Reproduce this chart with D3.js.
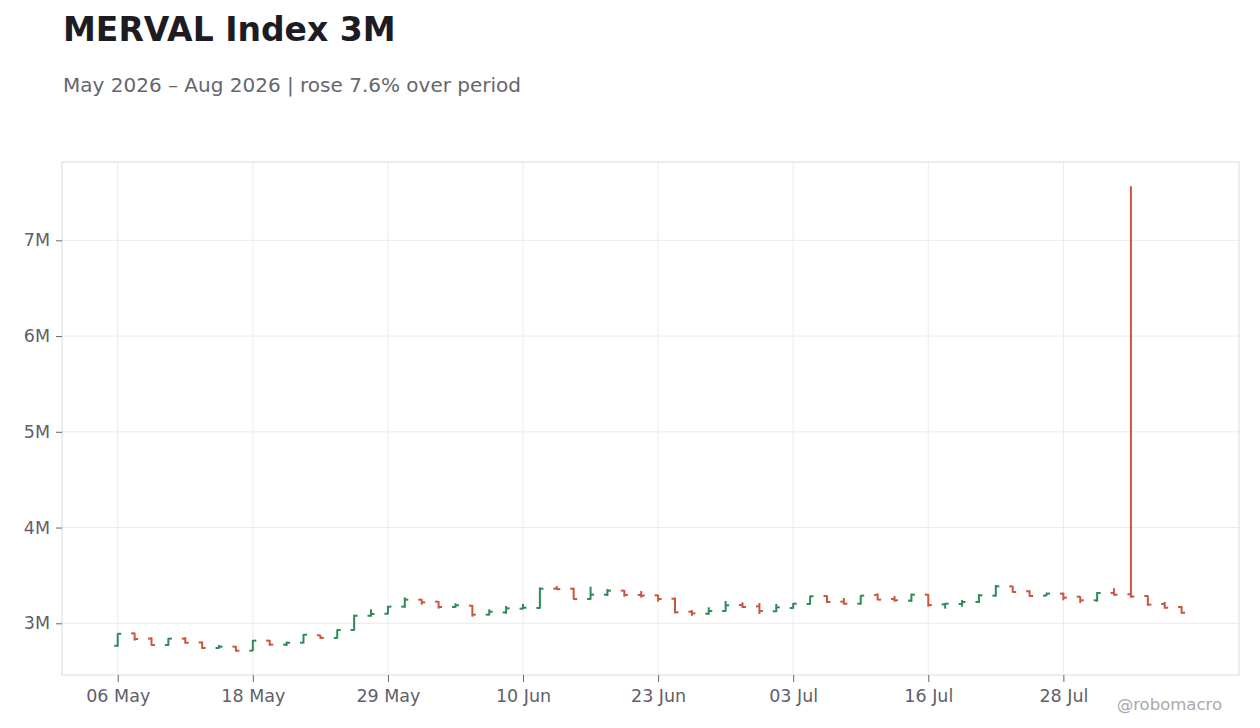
<!DOCTYPE html>
<html lang="en">
<head>
    <meta charset="UTF-8">
    <title>MERVAL Index 3M</title>
    <script src="https://d3js.org/d3.v7.min.js"></script>
    <style>
        body { margin: 0; background: #fff; font-family: "DejaVu Sans", sans-serif; }
    </style>
</head>
<body>
    <div id="chart"></div>

    <script>
        // Trading days (Argentina holidays skipped: 25 May, 15 Jun, 09 Jul)
        const dates = [
            "2026-05-06","2026-05-07","2026-05-08","2026-05-11","2026-05-12","2026-05-13","2026-05-14","2026-05-15",
            "2026-05-18","2026-05-19","2026-05-20","2026-05-21","2026-05-22","2026-05-26","2026-05-27","2026-05-28",
            "2026-05-29","2026-06-01","2026-06-02","2026-06-03","2026-06-04","2026-06-05","2026-06-08","2026-06-09",
            "2026-06-10","2026-06-11","2026-06-12","2026-06-16","2026-06-17","2026-06-18","2026-06-19","2026-06-22",
            "2026-06-23","2026-06-24","2026-06-25","2026-06-26","2026-06-29","2026-06-30","2026-07-01","2026-07-02",
            "2026-07-03","2026-07-06","2026-07-07","2026-07-08","2026-07-10","2026-07-13","2026-07-14","2026-07-15",
            "2026-07-16","2026-07-17","2026-07-20","2026-07-21","2026-07-22","2026-07-23","2026-07-24","2026-07-27",
            "2026-07-28","2026-07-29","2026-07-30","2026-07-31","2026-08-03","2026-08-04","2026-08-05","2026-08-06"
        ];

        // OHLC values, in millions
        const openM = [
            2.766, 2.895, 2.840, 2.773, 2.840, 2.800, 2.742, 2.756,
            2.714, 2.819, 2.777, 2.797, 2.875, 2.847, 2.930, 3.079,
            3.100, 3.174, 3.247, 3.226, 3.170, 3.184, 3.090, 3.114,
            3.153, 3.160, 3.362, 3.361, 3.254, 3.299, 3.341, 3.296,
            3.292, 3.257, 3.121, 3.100, 3.128, 3.191, 3.177, 3.125,
            3.160, 3.202, 3.285, 3.226, 3.205, 3.296, 3.254, 3.237,
            3.299, 3.198, 3.202, 3.223, 3.289, 3.386, 3.334, 3.289,
            3.310, 3.278, 3.240, 3.317, 3.303, 3.285, 3.202, 3.170
        ];
        const highM = [
            2.896, 2.902, 2.854, 2.847, 2.854, 2.811, 2.773, 2.763,
            2.826, 2.826, 2.808, 2.888, 2.878, 2.937, 3.090, 3.146,
            3.181, 3.271, 3.254, 3.233, 3.209, 3.191, 3.146, 3.181,
            3.202, 3.375, 3.389, 3.372, 3.382, 3.358, 3.348, 3.337,
            3.299, 3.268, 3.139, 3.167, 3.233, 3.219, 3.212, 3.202,
            3.212, 3.289, 3.292, 3.264, 3.292, 3.313, 3.285, 3.310,
            3.306, 3.212, 3.243, 3.306, 3.400, 3.389, 3.344, 3.320,
            3.320, 3.282, 3.327, 3.366, 7.564, 3.292, 3.223, 3.181
        ];
        const lowM = [
            2.756, 2.819, 2.766, 2.766, 2.787, 2.732, 2.735, 2.704,
            2.711, 2.766, 2.763, 2.790, 2.840, 2.840, 2.923, 3.069,
            3.093, 3.163, 3.195, 3.153, 3.163, 3.069, 3.083, 3.100,
            3.146, 3.153, 3.351, 3.247, 3.247, 3.285, 3.278, 3.268,
            3.226, 3.104, 3.079, 3.090, 3.121, 3.160, 3.097, 3.118,
            3.153, 3.195, 3.212, 3.195, 3.195, 3.240, 3.226, 3.223,
            3.174, 3.153, 3.174, 3.212, 3.278, 3.320, 3.278, 3.285,
            3.240, 3.212, 3.226, 3.289, 3.268, 3.184, 3.153, 3.100
        ];
        const closeM = [
            2.890, 2.836, 2.773, 2.840, 2.797, 2.742, 2.756, 2.714,
            2.819, 2.777, 2.797, 2.881, 2.847, 2.930, 3.079, 3.097,
            3.174, 3.247, 3.219, 3.170, 3.188, 3.090, 3.121, 3.156,
            3.163, 3.361, 3.357, 3.254, 3.299, 3.341, 3.296, 3.289,
            3.254, 3.115, 3.104, 3.128, 3.188, 3.170, 3.128, 3.167,
            3.205, 3.282, 3.223, 3.205, 3.289, 3.247, 3.240, 3.299,
            3.191, 3.205, 3.223, 3.292, 3.386, 3.327, 3.285, 3.310,
            3.268, 3.240, 3.317, 3.299, 3.280, 3.195, 3.163, 3.111
        ];

        const yTicks = [3, 4, 5, 6, 7];
        const xTickEvery = 8;

        const width = 1260, height = 728;
        const plot = { left: 62, right: 1239, top: 162, bottom: 675 };
        const upColor = "#2e8b57", downColor = "#c9573f";

        const parse = d3.timeParse("%Y-%m-%d");
        const fmt = d3.timeFormat("%d %b");
        const bars = dates.map((d, i) => ({
            i, date: parse(d), o: openM[i], h: highM[i], l: lowM[i], c: closeM[i]
        }));

        const svg = d3.select("#chart").append("svg")
            .attr("width", width)
            .attr("height", height);

        const x = d3.scaleLinear().domain([-3.3, bars.length + 2.4]).range([plot.left, plot.right]);
        const y = d3.scaleLinear().domain([2.46, 7.818]).range([plot.bottom, plot.top]);

        // Titles
        svg.append("text").attr("x", 63).attr("y", 41)
            .style("font-size", "33px").style("font-weight", "bold").style("fill", "#1c1c22")
            .text("MERVAL Index 3M");
        svg.append("text").attr("x", 63).attr("y", 92)
            .style("font-size", "20px").style("fill", "#66666e")
            .text("May 2026 \u2013 Aug 2026 | rose 7.6% over period");

        // Grid
        const xTickIdx = d3.range(0, bars.length, xTickEvery);
        svg.append("g").selectAll("line").data(yTicks).join("line")
            .attr("x1", plot.left).attr("x2", plot.right)
            .attr("y1", d => y(d)).attr("y2", d => y(d))
            .attr("stroke", "#ececec");
        svg.append("g").selectAll("line").data(xTickIdx).join("line")
            .attr("x1", d => x(d)).attr("x2", d => x(d))
            .attr("y1", plot.top).attr("y2", plot.bottom)
            .attr("stroke", "#ececec");

        // Frame
        svg.append("rect")
            .attr("x", plot.left).attr("y", plot.top)
            .attr("width", plot.right - plot.left).attr("height", plot.bottom - plot.top)
            .attr("fill", "none").attr("stroke", "#dcdcdc");

        // Axes
        const yAxis = svg.append("g").attr("transform", `translate(${plot.left},0)`)
            .call(d3.axisLeft(y).tickValues(yTicks).tickFormat(d => d + "M").tickSize(6).tickPadding(6));
        const xAxis = svg.append("g").attr("transform", `translate(0,${plot.bottom})`)
            .call(d3.axisBottom(x).tickValues(xTickIdx).tickFormat(i => fmt(bars[i].date)).tickSize(7).tickPadding(8));
        [yAxis, xAxis].forEach(g => {
            g.select(".domain").remove();
            g.selectAll(".tick line").attr("stroke", "#666");
            g.selectAll(".tick text")
                .style("font-family", "DejaVu Sans, sans-serif")
                .style("font-size", "17.5px").style("fill", "#5f5f68");
        });

        // OHLC bars
        const tick = 3.5;
        const g = svg.append("g").attr("stroke-width", 2).attr("fill", "none");
        const bar = g.selectAll("g").data(bars).join("g")
            .attr("stroke", d => d.c >= d.o ? upColor : downColor);
        bar.append("line")
            .attr("x1", d => x(d.i)).attr("x2", d => x(d.i))
            .attr("y1", d => y(d.h)).attr("y2", d => y(d.l));
        bar.append("line")
            .attr("x1", d => x(d.i) - tick).attr("x2", d => x(d.i))
            .attr("y1", d => y(d.o)).attr("y2", d => y(d.o));
        bar.append("line")
            .attr("x1", d => x(d.i)).attr("x2", d => x(d.i) + tick)
            .attr("y1", d => y(d.c)).attr("y2", d => y(d.c));

        // Watermark
        svg.append("text").attr("x", 1222).attr("y", 710).attr("text-anchor", "end")
            .style("font-size", "16.5px").style("fill", "#aaaaaa")
            .text("@robomacro");
    </script>
</body>
</html>
